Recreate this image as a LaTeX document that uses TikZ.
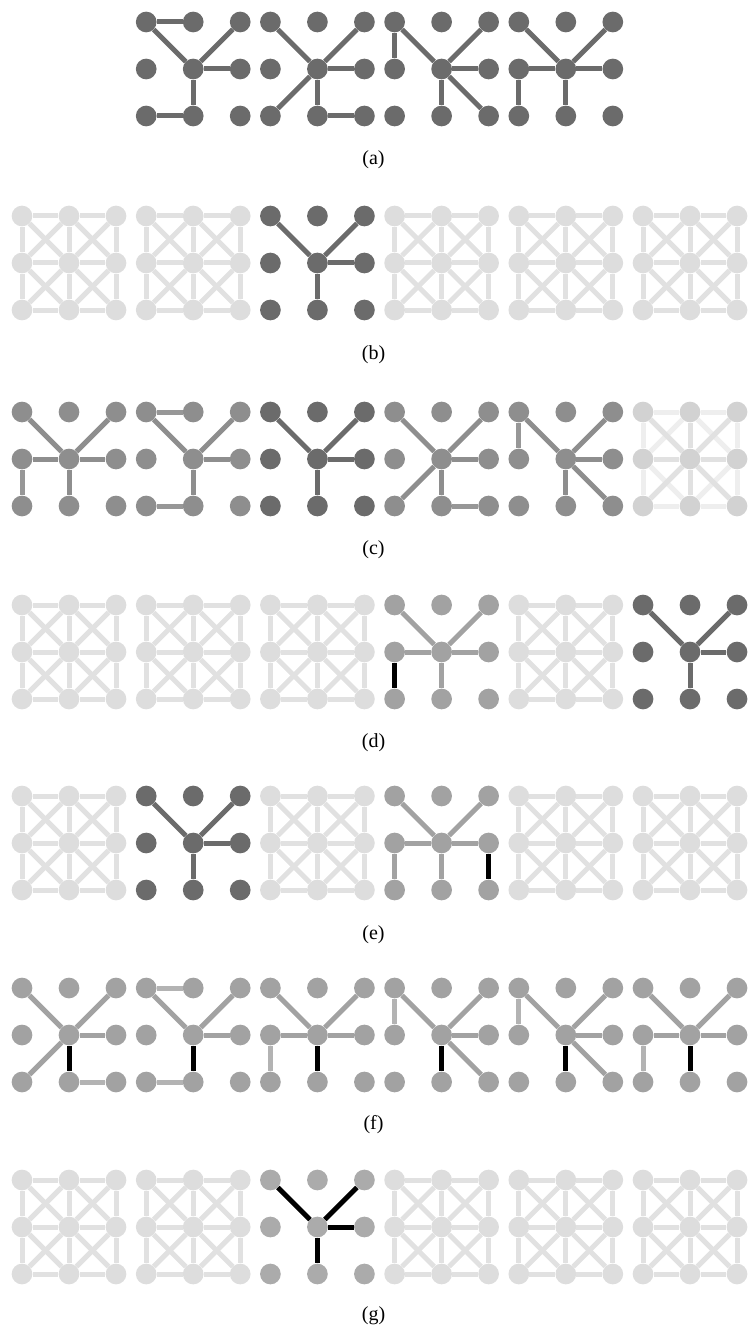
\documentclass[tikz,border=0pt]{standalone}
\usepackage{fontspec}
\setmainfont{Liberation Serif}
\usetikzlibrary{positioning}
\definecolor{treedark}{HTML}{6B6B6B}
\definecolor{treemid}{HTML}{8E8E8E}
\definecolor{treemidpale}{HTML}{979797}
\definecolor{treesoft}{HTML}{A2A2A2}
\definecolor{treepale}{HTML}{B3B3B3}
\definecolor{treeghost}{HTML}{ABABAB}
\definecolor{gridnode}{HTML}{DDDDDD}
\definecolor{gridedge}{HTML}{E1E1E1}
\definecolor{gridfade}{HTML}{EEEEEE}

% 3x3 nodes of one panel: name, left x, top y, fill
\newcommand{\gridnodes}[4]{%
  \foreach \i in {0,1,2}{%
    \foreach \j in {0,1,2}{%
      \node[dot, fill=#4] (#1-\i\j) at ({#2+47*\i}, {#3+47*\j}) {};}}}
% all 20 edges of a panel
\newcommand{\fullgrid}[2]{%
  \foreach \i in {0,1,2}{%
    \foreach \u/\v in {0/1,1/2}{%
      \draw[#2] (#1-\i\u) -- (#1-\i\v);
      \draw[#2] (#1-\u\i) -- (#1-\v\i);}}
  \foreach \i/\u in {0/1,1/2}{%
    \foreach \j/\v in {0/1,1/2}{%
      \draw[#2] (#1-\i\j) -- (#1-\u\v);
      \draw[#2] (#1-\u\j) -- (#1-\i\v);}}}
% the common Y: name, style, style of the stem
\newcommand{\ybase}[3]{%
  \draw[#2] (#1-11) edge (#1-00) edge (#1-20) edge (#1-21);
  \draw[#3] (#1-11) -- (#1-12);}
% extra twigs: name, style at the hub, style away from it
\newcommand{\twigA}[3]{\draw[#3] (#1-00) -- (#1-10) (#1-02) -- (#1-12);}
\newcommand{\twigB}[3]{\draw[#2] (#1-11) -- (#1-02); \draw[#3] (#1-12) -- (#1-22);}
\newcommand{\twigC}[3]{\draw[#3] (#1-00) -- (#1-01); \draw[#2] (#1-11) -- (#1-22);}
\newcommand{\twigD}[3]{\draw[#2] (#1-11) -- (#1-01); \draw[#3] (#1-01) -- (#1-02);}

\begin{document}
\begin{tikzpicture}[x=1pt, y=-1pt,
   dot/.style={circle, draw=none, inner sep=0pt, minimum size=20.7pt},
   link/.style={line width=5pt},
   chosen/.style={line width=5pt, black},
   caption/.style={font=\fontsize{20}{22}\selectfont}]
  \useasboundingbox (0,0) rectangle (747,1329);

  % (a)
  \foreach \col in {1,2,3,4}{\gridnodes{a\col}{22+124.2*\col}{22}{treedark}}
  \ybase{a1}{link,treedark}{link,treedark}
  \twigA{a1}{link,treedark}{link,treedark}
  \ybase{a2}{link,treedark}{link,treedark}
  \twigB{a2}{link,treedark}{link,treedark}
  \ybase{a3}{link,treedark}{link,treedark}
  \twigC{a3}{link,treedark}{link,treedark}
  \ybase{a4}{link,treedark}{link,treedark}
  \twigD{a4}{link,treedark}{link,treedark}
  \node[caption] (cap-a) at (373.5,160) {(a)};

  % (b)
  \foreach \col in {0,1,3,4,5}{%
    \gridnodes{b\col}{22+124.2*\col}{216}{gridnode}
    \fullgrid{b\col}{link,gridedge}}
  \gridnodes{b2}{22+124.2*2}{216}{treedark}
  \ybase{b2}{link,treedark}{link,treedark}
  \node[caption] (cap-b) at (373.5,355) {(b)};

  % (c)
  \foreach \col in {0,1,3,4}{\gridnodes{c\col}{22+124.2*\col}{412}{treemid}}
  \ybase{c0}{link,treemid}{link,treemid}
  \twigD{c0}{link,treemid}{link,treemidpale}
  \ybase{c1}{link,treemid}{link,treemid}
  \twigA{c1}{link,treemid}{link,treemidpale}
  \ybase{c3}{link,treemid}{link,treemid}
  \twigB{c3}{link,treemid}{link,treemidpale}
  \ybase{c4}{link,treemid}{link,treemid}
  \twigC{c4}{link,treemid}{link,treemidpale}
  \gridnodes{c2}{22+124.2*2}{412}{treedark}
  \ybase{c2}{link,treedark}{link,treedark}
  \gridnodes{c5}{22+124.2*5}{412}{gridnode!95!black}
  \fullgrid{c5}{link,gridfade}
  \draw[link,gridedge] (c5-11) edge (c5-00) edge (c5-10) edge (c5-20)
    edge (c5-01) edge (c5-21) edge (c5-02) edge (c5-12) edge (c5-22);
  \node[caption] (cap-c) at (373.5,550) {(c)};

  % (d)
  \foreach \col in {0,1,2,4}{%
    \gridnodes{d\col}{22+124.2*\col}{605}{gridnode}
    \fullgrid{d\col}{link,gridedge}}
  \gridnodes{d3}{22+124.2*3}{605}{treesoft}
  \ybase{d3}{link,treesoft}{link,treesoft}
  \twigD{d3}{link,treesoft}{chosen}
  \gridnodes{d5}{22+124.2*5}{605}{treedark}
  \ybase{d5}{link,treedark}{link,treedark}
  \node[caption] (cap-d) at (373.5,743) {(d)};

  % (e)
  \foreach \col in {0,2,4,5}{%
    \gridnodes{e\col}{22+124.2*\col}{796}{gridnode}
    \fullgrid{e\col}{link,gridedge}}
  \gridnodes{e1}{22+124.2*1}{796}{treedark}
  \ybase{e1}{link,treedark}{link,treedark}
  \gridnodes{e3}{22+124.2*3}{796}{treesoft}
  \ybase{e3}{link,treesoft}{link,treesoft}
  \twigD{e3}{link,treesoft}{link,treesoft}
  \draw[chosen] (e3-21) -- (e3-22);
  \node[caption] (cap-e) at (373.5,935) {(e)};

  % (f)
  \foreach \col in {0,...,5}{%
    \gridnodes{f\col}{22+124.2*\col}{988}{treesoft}
    \ybase{f\col}{link,treesoft}{chosen}}
  \twigB{f0}{link,treesoft}{link,treepale}
  \twigA{f1}{link,treesoft}{link,treepale}
  \twigD{f2}{link,treesoft}{link,treepale}
  \twigC{f3}{link,treesoft}{link,treepale}
  \twigC{f4}{link,treesoft}{link,treepale}
  \twigD{f5}{link,treesoft}{link,treepale}
  \node[caption] (cap-f) at (373.5,1125) {(f)};

  % (g)
  \foreach \col in {0,1,3,4,5}{%
    \gridnodes{g\col}{22+124.2*\col}{1180}{gridnode}
    \fullgrid{g\col}{link,gridedge}}
  \gridnodes{g2}{22+124.2*2}{1180}{treeghost}
  \ybase{g2}{chosen}{chosen}
  \node[caption] (cap-g) at (373.5,1316) {(g)};
\end{tikzpicture}
\end{document}
